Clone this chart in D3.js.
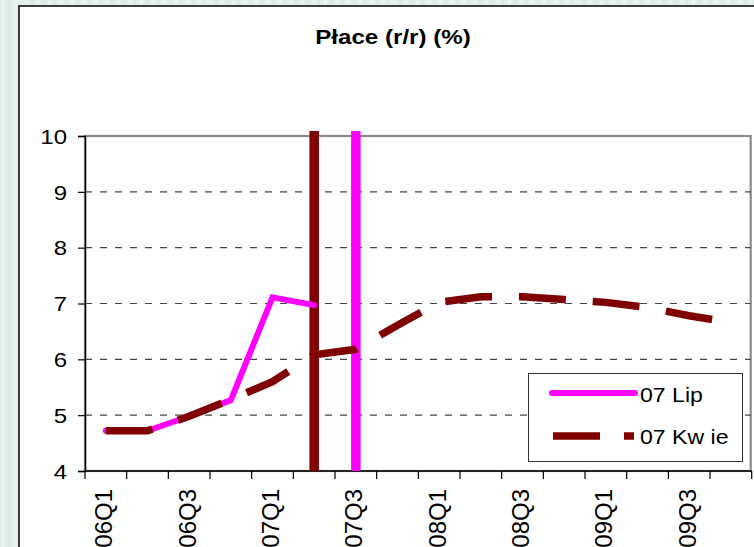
<!DOCTYPE html>
<html>
<head>
<meta charset="utf-8">
<script src="https://cdn.jsdelivr.net/npm/d3@7/dist/d3.min.js"></script>
<style>
  html, body { margin: 0; padding: 0; background: #e4efec; }
  svg { display: block; }
  text { font-family: "Liberation Sans", Arial, sans-serif; fill: #000; }
</style>
</head>
<body>
<svg id="chart" width="754" height="547"></svg>
<script>
// Quarterly wage growth, year on year (%)
const categories = ["06Q1","06Q2","06Q3","06Q4","07Q1","07Q2","07Q3","07Q4",
                    "08Q1","08Q2","08Q3","08Q4","09Q1","09Q2","09Q3","09Q4"];
const shownLabels = ["06Q1","06Q3","07Q1","07Q3","08Q1","08Q3","09Q1","09Q3"];
const lipValues  = [4.72, 4.72, 4.98, 5.27, 7.11, 6.97];
const kwieValues = [4.72, 4.72, 4.98, 5.28, 5.60, 6.08, 6.18, 6.61,
                    7.02, 7.12, 7.12, 7.07, 7.02, 6.93, 6.78, 6.66];
const yTicks = [4, 5, 6, 7, 8, 9, 10];
const seriesNames = ["07 Lip", "07 Kw ie"];
// forecast cut-off markers: one vertical bar per forecast round
const markerCats = ["07Q2", "07Q3"];
const markerTop = 10.09;

const MAGENTA = "#ff00ff", MAROON = "#800000";

const svg = d3.select("#chart");

// striped backdrop around the chart sheet
const defs = svg.append("defs");
const pat = defs.append("pattern").attr("id", "stripes")
  .attr("patternUnits", "userSpaceOnUse").attr("width", 23).attr("height", 10);
pat.append("rect").attr("width", 23).attr("height", 10).attr("fill", "#e2eeea");
[[2, 3, "#eaf4f1"], [8, 2, "#dbe8e4"], [13, 4, "#e8f2ef"], [19, 2, "#dde9e6"]]
  .forEach(([x, w, c]) => pat.append("rect").attr("x", x).attr("width", w).attr("height", 10).attr("fill", c));
svg.append("rect").attr("width", 754).attr("height", 547).attr("fill", "url(#stripes)");

// white chart sheet
svg.append("rect").attr("x", 19).attr("y", 6).attr("width", 760).attr("height", 560)
  .attr("fill", "#fff").attr("stroke", "#111").attr("stroke-width", 1.6);

const plot = { left: 85, right: 751.7, top: 136, bottom: 471 };

const x = d3.scaleBand().domain(categories).range([plot.left, plot.right]).padding(0);
const y = d3.scaleLinear().domain([4, 10]).range([plot.bottom, plot.top]);
const cx = c => x(c) + x.bandwidth() / 2;

// plot area frame (top and right edges show in grey)
svg.append("rect")
  .attr("x", plot.left).attr("y", y(10))
  .attr("width", plot.right - plot.left - 1).attr("height", y(4) - y(10))
  .attr("fill", "none").attr("stroke", "#8a8a8a").attr("stroke-width", 2.2);

// dashed horizontal gridlines
svg.append("g").selectAll("line")
  .data(yTicks.filter(v => v > 4 && v < 10))
  .join("line")
  .attr("x1", plot.left).attr("x2", plot.right - 1)
  .attr("y1", d => y(d)).attr("y2", d => y(d))
  .attr("stroke", "#444").attr("stroke-width", 1.1)
  .attr("stroke-dasharray", "7,8");

// y axis
const yAxis = svg.append("g").attr("transform", `translate(${plot.left},0)`)
  .call(d3.axisLeft(y).tickValues(yTicks).tickSize(7).tickPadding(0).tickFormat(d3.format("d")));
yAxis.select(".domain").attr("stroke", "#000").attr("stroke-width", 1.5);
yAxis.selectAll(".tick line").attr("stroke", "#000").attr("stroke-width", 1.2);
yAxis.selectAll(".tick text")
  .attr("x", -15).attr("dy", "0.36em")
  .attr("transform", "scale(1.2,1)")
  .style("font-size", "20px").style("font-family", "Liberation Sans, Arial, sans-serif")
  .attr("fill", "#000");

// x axis: ticks sit between quarters
const xAxisG = svg.append("g").attr("transform", `translate(0,${plot.bottom})`);
xAxisG.append("line").attr("x1", plot.left).attr("x2", plot.right)
  .attr("stroke", "#000").attr("stroke-width", 1.5);
const boundaries = categories.map(c => x(c)).concat([plot.right]);
xAxisG.selectAll("line.tk").data(boundaries).join("line").attr("class", "tk")
  .attr("x1", d => d).attr("x2", d => d).attr("y1", 0).attr("y2", 8)
  .attr("stroke", "#000").attr("stroke-width", 1.2);
svg.append("g").selectAll("text").data(shownLabels).join("text")
  .attr("transform", d => `translate(${cx(d)},${plot.bottom + 18}) rotate(-90)`)
  .attr("text-anchor", "end").attr("dy", "0.27em")
  .style("font-size", "24px")
  .text(d => d);

// forecast cut-off bars
svg.append("g").selectAll("line").data(markerCats).join("line")
  .attr("x1", d => cx(d)).attr("x2", d => cx(d))
  .attr("y1", y(4)).attr("y2", y(markerTop))
  .attr("stroke", (d, i) => i === 0 ? MAROON : MAGENTA)
  .attr("stroke-width", 9.5);

// series lines
const line = d3.line()
  .defined(d => d.v != null)
  .x(d => cx(d.c)).y(d => y(d.v));

const lipData = categories.map((c, i) => ({ c, v: i < lipValues.length ? lipValues[i] : null }));
const kwieData = categories.map((c, i) => ({ c, v: kwieValues[i] }));

svg.append("path").datum(lipData).attr("d", line)
  .attr("fill", "none").attr("stroke", MAGENTA).attr("stroke-width", 6)
  .attr("stroke-linecap", "round").attr("stroke-linejoin", "miter");

const kwiePath = svg.append("path").datum(kwieData).attr("d", line)
  .attr("fill", "none").attr("stroke", MAROON).attr("stroke-width", 7.5)
  .attr("stroke-linecap", "butt");

// long-dash pattern: 47px dashes, period fitted so the line closes inside a gap
const DASH = 47, TAIL = 66;
const total = kwiePath.node().getTotalLength();
const nPeriods = Math.round((total - TAIL) / 70);
const period = (total - TAIL) / nPeriods;
kwiePath.attr("stroke-dasharray", `${DASH},${(period - DASH).toFixed(2)}`);

// title
svg.append("text")
  .attr("transform", "translate(393,43.5) scale(1.15,1)")
  .attr("text-anchor", "middle")
  .style("font-size", "21px").style("font-weight", "bold")
  .text("Płace (r/r) (%)");

// legend
const lg = svg.append("g");
lg.append("rect").attr("x", 528.5).attr("y", 373.5).attr("width", 214).attr("height", 88)
  .attr("fill", "#fff").attr("stroke", "#333").attr("stroke-width", 1);
lg.append("line").attr("x1", 552).attr("x2", 635).attr("y1", 393).attr("y2", 393)
  .attr("stroke", MAGENTA).attr("stroke-width", 6).attr("stroke-linecap", "round");
lg.append("line").attr("x1", 553).attr("x2", 634).attr("y1", 436).attr("y2", 436)
  .attr("stroke", MAROON).attr("stroke-width", 7.5).attr("stroke-dasharray", "47,24");
lg.selectAll("text").data(seriesNames).join("text")
  .attr("transform", (d, i) => `translate(640,${i === 0 ? 401.5 : 444}) scale(1.1,1)`)
  .style("font-size", "21px")
  .text(d => d);
</script>
</body>
</html>
